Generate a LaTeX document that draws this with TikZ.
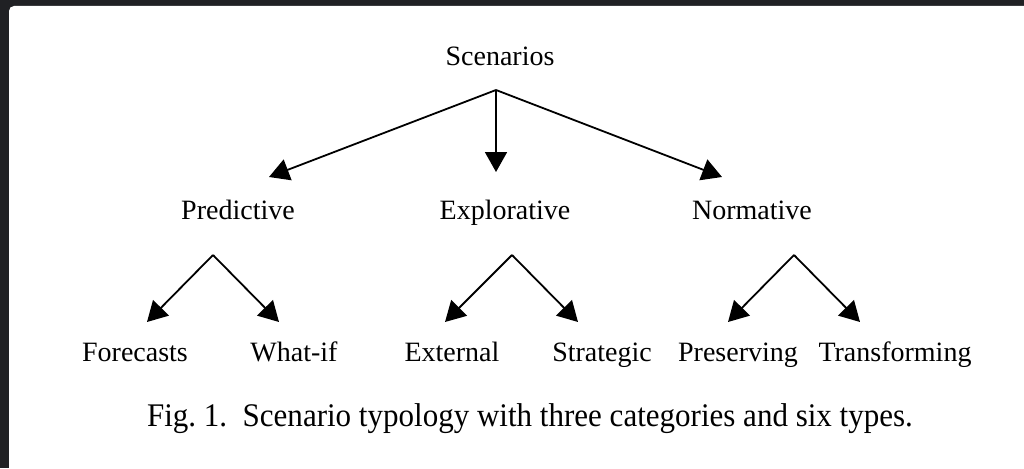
\documentclass[tikz,border=0pt]{standalone}
\usepackage{fontspec}
\setmainfont{Liberation Serif}
\newfontfamily\capfont[FakeStretch=0.94]{Liberation Serif}
\usetikzlibrary{arrows.meta,positioning}
\definecolor{framebg}{HTML}{202124}

\begin{document}
\begin{tikzpicture}[x=1pt,y=-1pt]
		\tikzstyle{label}=[inner sep=0pt,anchor=base,font=\fontsize{28}{30}\selectfont]
		\tikzstyle{link}=[line width=1.8pt,-{Triangle[length=20pt,width=22pt]}]
		\tikzstyle{caption}=[inner sep=0pt,anchor=base,font=\capfont\fontsize{33}{36}\selectfont]
		
		\useasboundingbox (0,0) rectangle (1024,468);
		\fill[framebg] (0,0) rectangle (1024,468);
		\fill[white,rounded corners=5pt] (9,6) rectangle (1040,490);
		
		\node[label] (scen) at (500,66) {Scenarios};
		\node[label] (pred) at (238,219) {Predictive};
		\node[label] (expl) at (505,219) {Explorative};
		\node[label] (norm) at (752,219) {Normative};
		
		\node[label] (fore) at (135,361) {Forecasts};
		\node[label] (whatif) at (294,361) {What-if};
		\node[label] (ext) at (452,361) {External};
		\node[label] (strat) at (602,361) {Strategic};
		\node[label] (pres) at (738,361) {Preserving};
		\node[label] (trans) at (895,361) {Transforming};
		
		\coordinate (scenTop) at (496,90);
		\coordinate (predIn) at (269,177);
		\coordinate (explIn) at (496,172);
		\coordinate (normIn) at (722,177);
		\draw [link] (scenTop) -- (predIn);
		\draw [link] (scenTop) -- (explIn);
		\draw [link] (scenTop) -- (normIn);
		
		\coordinate (predTop) at (213,255);
		\coordinate (foreIn) at (147,322);
		\coordinate (whatifIn) at (279,322);
		\draw [link] (predTop) -- (foreIn);
		\draw [link] (predTop) -- (whatifIn);
		
		\coordinate (explTop) at (512,255);
		\coordinate (extIn) at (445,322);
		\coordinate (stratIn) at (578,322);
		\draw [link] (explTop) -- (extIn);
		\draw [link] (explTop) -- (stratIn);
		
		\coordinate (normTop) at (794,255);
		\coordinate (presIn) at (728,322);
		\coordinate (transIn) at (860,322);
		\draw [link] (normTop) -- (presIn);
		\draw [link] (normTop) -- (transIn);
		
		\node[caption] (cap) at (530,426) {Fig.~1.\ \ Scenario typology with three categories and six types.};
\end{tikzpicture}
\end{document}
